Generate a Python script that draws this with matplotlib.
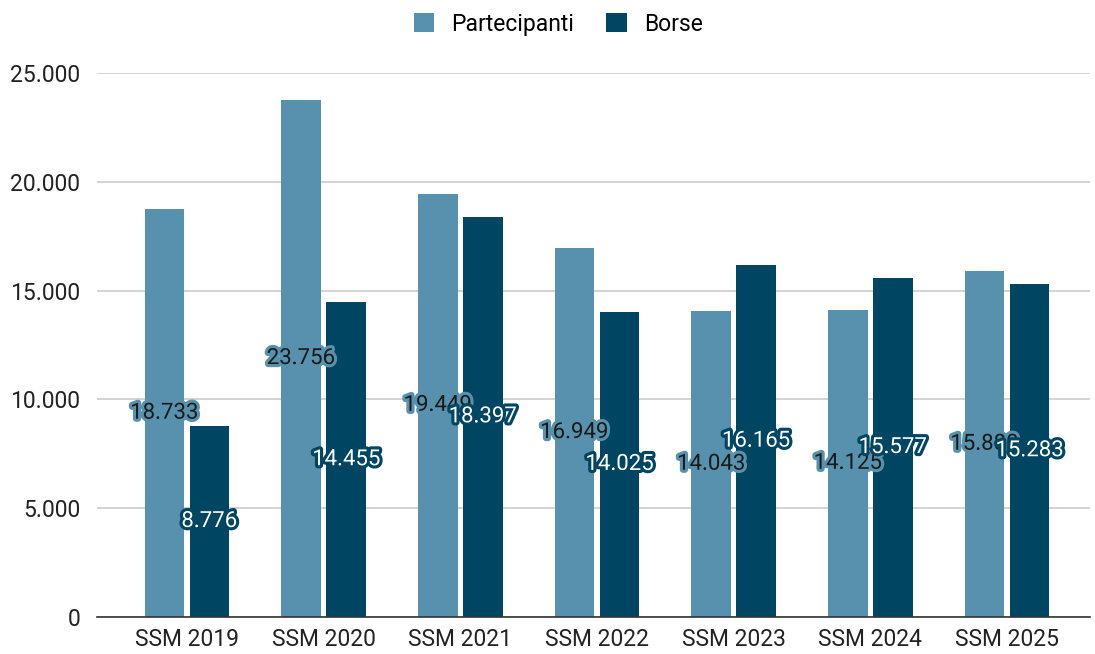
"""Partecipanti e borse SSM 2019-2025, grouped bar chart."""

import matplotlib

matplotlib.use("Agg")

import matplotlib.pyplot as plt
import matplotlib.patheffects as pe
import numpy as np
from matplotlib.ticker import FuncFormatter


CATEGORIES = ["SSM 2019", "SSM 2020", "SSM 2021", "SSM 2022", "SSM 2023", "SSM 2024", "SSM 2025"]
PARTECIPANTI = [18733, 23756, 19449, 16949, 14043, 14125, 15880]
BORSE = [8776, 14455, 18397, 14025, 16165, 15577, 15283]
Y_TICKS = [0, 5000, 10000, 15000, 20000, 25000]

COLOR_PART = "#5891ad"
COLOR_BORSE = "#004561"


def it_format(value, _pos=None):
    """Italian thousands separator."""
    return f"{int(round(value)):,}".replace(",", ".")


def main() -> None:
    plt.rcParams["font.family"] = ["Roboto", "DejaVu Sans"]

    fig = plt.figure(figsize=(10.95, 6.54), dpi=100)
    ax = fig.add_axes([97 / 1095, 1 - 617 / 654, (1090 - 97) / 1095, (617 - 73) / 654])

    x = np.arange(len(CATEGORIES))
    width = 0.29
    offset = 0.165

    bars_p = ax.bar(x - offset, PARTECIPANTI, width, color=COLOR_PART, label="Partecipanti", zorder=2)
    bars_b = ax.bar(x + offset, BORSE, width, color=COLOR_BORSE, label="Borse", zorder=2)

    for bar, val in zip(bars_p, PARTECIPANTI):
        ax.text(
            bar.get_x() + bar.get_width() / 2, val / 2, it_format(val),
            ha="center", va="center", fontsize=16, color="#1a1a1a", zorder=4,
            path_effects=[pe.withStroke(linewidth=4.5, foreground=COLOR_PART)],
        )
    for bar, val in zip(bars_b, BORSE):
        ax.text(
            bar.get_x() + bar.get_width() / 2, val / 2, it_format(val),
            ha="center", va="center", fontsize=16, color="white", zorder=4,
            path_effects=[pe.withStroke(linewidth=4.5, foreground=COLOR_BORSE)],
        )

    ax.set_xlim(-0.658, 6.607)
    ax.set_ylim(0, 25000)
    ax.set_yticks(Y_TICKS)
    ax.yaxis.set_major_formatter(FuncFormatter(it_format))
    ax.set_xticks(x)
    ax.set_xticklabels(CATEGORIES)
    ax.tick_params(axis="both", length=0, labelsize=16.5, colors="#222222")
    ax.tick_params(axis="y", pad=12)
    ax.tick_params(axis="x", pad=8)

    ax.grid(axis="y", color="#cccccc", linewidth=1.2, zorder=0)
    for side in ("top", "right", "left"):
        ax.spines[side].set_visible(False)
    ax.spines["bottom"].set_color("#333333")
    ax.spines["bottom"].set_linewidth(1.2)
    ax.spines["bottom"].set_zorder(3)

    fig.legend(
        loc="upper center", bbox_to_anchor=(0.51, 1.012), ncol=2, frameon=False,
        fontsize=16.5, handlelength=0.9, handleheight=0.9, handletextpad=0.75,
        columnspacing=1.4,
    )

    fig.savefig("out.png", dpi=100)
    plt.close(fig)


if __name__ == "__main__":
    main()
